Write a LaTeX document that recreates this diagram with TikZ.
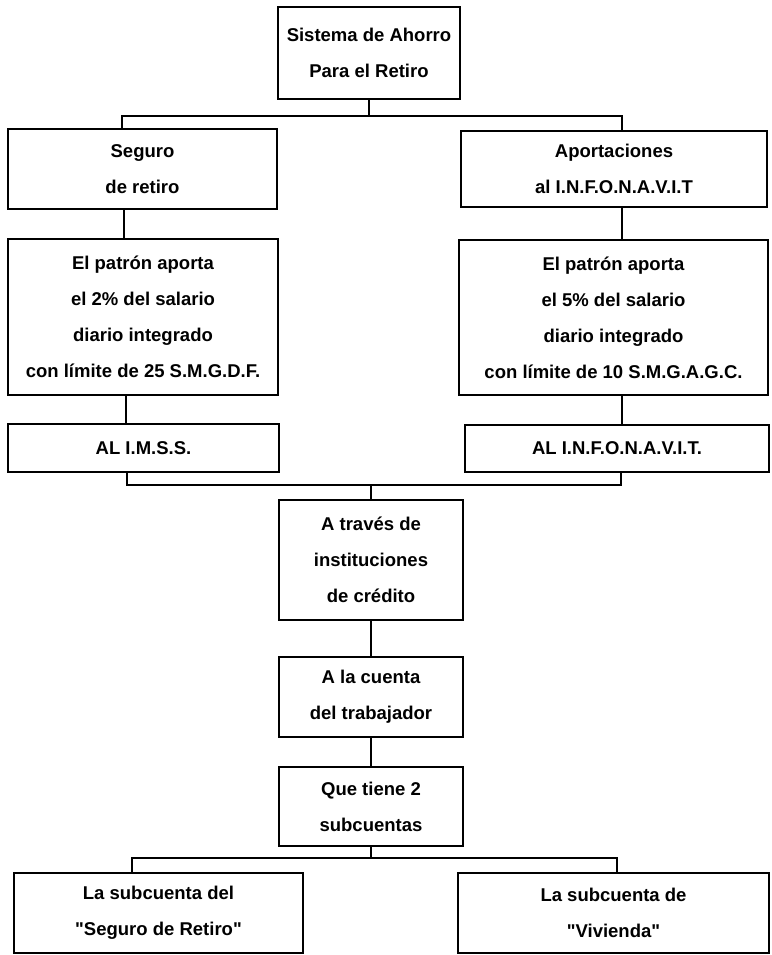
\documentclass[tikz,border=0pt]{standalone}
\usepackage{fontspec}
\setmainfont{Liberation Sans}
\usepackage{tikz}

\begin{document}
\begin{tikzpicture}[x=1pt, y=-1pt, line width=1.2pt,
    caja/.style={draw, align=center, inner sep=0pt, font=\bfseries\fontsize{18.5}{36}\selectfont}]
    \useasboundingbox (0,0) rectangle (771,955);

    % Define nodes
    \node (sar) at (369,53) [caja, minimum width=182pt, minimum height=92pt] {Sistema de Ahorro\\Para el Retiro};
    \node (seguro) at (142.5,169) [caja, minimum width=269pt, minimum height=80pt] {Seguro\\de retiro};
    \node (aport) at (614,169) [caja, minimum width=306pt, minimum height=76pt] {Aportaciones\\al I.N.F.O.N.A.V.I.T};
    \node (patron2) at (143,317) [caja, minimum width=270pt, minimum height=156pt] {El patrón aporta\\el 2\% del salario\\diario integrado\\con límite de 25 S.M.G.D.F.};
    \node (patron5) at (613.5,317.5) [caja, minimum width=309pt, minimum height=155pt] {El patrón aporta\\el 5\% del salario\\diario integrado\\con límite de 10 S.M.G.A.G.C.};
    \node (imss) at (143.5,448) [caja, minimum width=271pt, minimum height=48pt] {AL I.M.S.S.};
    \node (infon) at (617,448.5) [caja, minimum width=304pt, minimum height=47pt] {AL I.N.F.O.N.A.V.I.T.};
    \node (traves) at (371,560) [caja, minimum width=184pt, minimum height=120pt] {A través de\\instituciones\\de crédito};
    \node (cuenta) at (371,697) [caja, minimum width=184pt, minimum height=80pt] {A la cuenta\\del trabajador};
    \node (quetiene) at (371,806.5) [caja, minimum width=184pt, minimum height=79pt] {Que tiene 2\\subcuentas};
    \node (subret) at (158.5,913) [caja, minimum width=289pt, minimum height=80pt] {La subcuenta del\\\textquotedbl Seguro de Retiro\textquotedbl};
    \node (subviv) at (613.5,913) [caja, minimum width=311pt, minimum height=80pt] {La subcuenta de\\\textquotedbl Vivienda\textquotedbl};

    % Bus points
    \coordinate (b1) at (369,116);
    \coordinate (b2) at (371,485);
    \coordinate (b3) at (371,858);

    % Draw connectors
    \draw (sar.south) -- (b1);
    \draw ([xshift=-20.5pt]seguro.north) |- (b1) -| ([xshift=8pt]aport.north);
    \draw ([xshift=-18.5pt]seguro.south) -- ([xshift=-18.5pt]seguro.south |- patron2.north);
    \draw ([xshift=-17pt]patron2.south) -- ([xshift=-17pt]patron2.south |- imss.north);
    \draw ([xshift=8pt]aport.south) -- ([xshift=8pt]aport.south |- patron5.north);
    \draw ([xshift=8.5pt]patron5.south) -- ([xshift=8.5pt]patron5.south |- infon.north);
    \draw ([xshift=-16.5pt]imss.south) |- (b2) -| ([xshift=4pt]infon.south);
    \draw (b2) -- (traves.north);
    \draw (traves.south) -- (cuenta.north);
    \draw (cuenta.south) -- (quetiene.north);
    \draw (quetiene.south) -- (b3);
    \draw ([xshift=-26.5pt]subret.north) |- (b3) -| ([xshift=3.5pt]subviv.north);
\end{tikzpicture}
\end{document}
